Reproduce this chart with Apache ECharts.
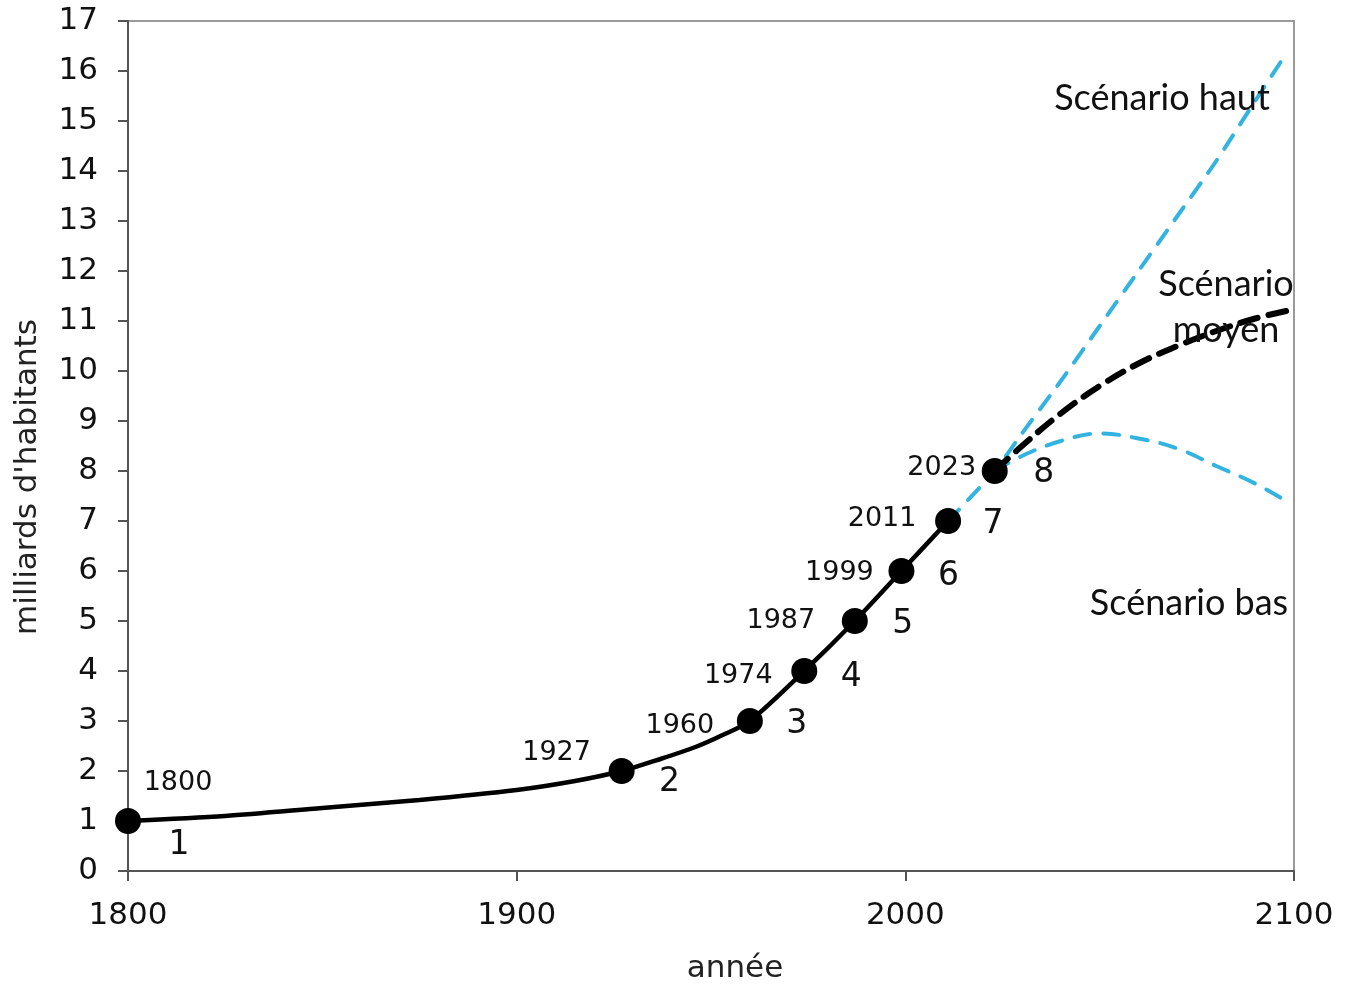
<!DOCTYPE html>
<html>
<head>
<meta charset="utf-8">
<script src="https://cdn.jsdelivr.net/npm/echarts@6/dist/echarts.min.js"></script>
<style>
  html, body { margin: 0; padding: 0; background: #fff; }
  #chart { width: 1352px; height: 988px; }
</style>
</head>
<body>
<div id="chart"></div>
<script>
// historic curve (milliards d'habitants)
var histYears = [1800, 1825, 1850, 1875, 1900, 1915, 1927, 1937, 1946, 1953, 1960, 1974, 1987, 1999, 2011];
var histValues = [1.0, 1.1, 1.26, 1.42, 1.62, 1.8, 2.0, 2.24, 2.48, 2.72, 3.0, 4.0, 5.0, 6.0, 7.0];

// milestones: each new billion
var mileYears = [1800, 1927, 1960, 1974, 1987, 1999, 2011, 2023];
var mileValues = [1, 2, 3, 4, 5, 6, 7, 8];

// projections
var hautYears = [2011, 2023, 2030, 2040, 2050, 2060, 2070, 2080, 2090, 2098];
var hautValues = [7.0, 8.0, 8.75, 9.8, 10.9, 12.0, 13.1, 14.2, 15.4, 16.35];
var moyenYears = [2023, 2030, 2040, 2050, 2060, 2070, 2080, 2090, 2098];
var moyenValues = [8.0, 8.5, 9.15, 9.7, 10.15, 10.5, 10.8, 11.05, 11.2];
var basYears = [2023, 2030, 2040, 2050, 2060, 2070, 2080, 2090, 2099];
var basValues = [8.0, 8.3, 8.6, 8.75, 8.65, 8.45, 8.1, 7.75, 7.35];

// label placement around each milestone marker (px)
var yearLabelShift = [[50, -38], [-65, -18], [-70, 5], [-66, 5], [-74, 0], [-62, 2], [-66, -2], [-53, -3]];
var rankLabelShift = [[51, 24], [48, 11], [47, 3], [47, 6], [48, 3], [47, 5], [45, 3], [49, 2]];

var FONT = 'DejaVu Sans';
var BLUE = '#33b3e0';

function pairs(xs, ys) {
    return xs.map(function (x, i) { return [x, ys[i]]; });
}

var chart = echarts.init(document.getElementById('chart'));

var yearItems = mileYears.map(function (y, i) {
    return {
        value: [y, mileValues[i]],
        label: { offset: yearLabelShift[i] }
    };
});
var rankItems = mileYears.map(function (y, i) {
    return {
        value: [y, mileValues[i]],
        label: { offset: rankLabelShift[i] }
    };
});

var option = {
    backgroundColor: '#fff',
    animation: false,
    grid: {
        left: 128,
        right: 58,
        top: 21,
        bottom: 117,
        outerBoundsMode: 'none',
        containLabel: false,
        show: true,
        borderColor: '#9a9a9a',
        borderWidth: 2
    },
    xAxis: {
        type: 'value',
        min: 1800,
        max: 2100,
        interval: 100,
        name: 'année',
        nameLocation: 'middle',
        nameGap: 82,
        nameTextStyle: { fontFamily: FONT, fontSize: 31, color: '#222', padding: [0, 0, 0, 48] },
        axisLine: { show: true, lineStyle: { color: '#555', width: 2 } },
        axisTick: { show: true, length: 10, lineStyle: { color: '#555', width: 2 } },
        axisLabel: {
            fontFamily: FONT, fontSize: 31, color: '#111', margin: 29,
            formatter: function (v) { return String(v); }
        },
        splitLine: { show: false }
    },
    yAxis: {
        type: 'value',
        min: 0,
        max: 17,
        interval: 1,
        axisLine: { show: true, lineStyle: { color: '#555', width: 2 } },
        axisTick: { show: true, length: 10, lineStyle: { color: '#555', width: 2 } },
        axisLabel: { fontFamily: FONT, fontSize: 31, color: '#111', margin: 30 },
        splitLine: { show: false }
    },
    graphic: [
        {
            type: 'text', x: 28, y: 477, rotation: Math.PI / 2,
            style: { text: "milliards d'habitants", font: '31px "DejaVu Sans"', fill: '#222', align: 'center', verticalAlign: 'middle' }
        },
        {
            type: 'text', x: 1162, y: 98, z: 10,
            style: { text: 'Scénario haut', font: '36px Lato', fill: '#111', align: 'center', verticalAlign: 'middle' }
        },
        {
            type: 'text', x: 1226, y: 307, z: 10,
            style: { text: 'Scénario\nmoyen', font: '36px Lato', lineHeight: 46, fill: '#111', align: 'center', verticalAlign: 'middle' }
        },
        {
            type: 'text', x: 1189, y: 603, z: 10,
            style: { text: 'Scénario bas', font: '36px Lato', fill: '#111', align: 'center', verticalAlign: 'middle' }
        }
    ],
    series: [
        {
            name: 'haut',
            type: 'line',
            smooth: 0.2,
            showSymbol: false,
            z: 2,
            lineStyle: { color: BLUE, width: 4, type: [16, 13], cap: 'round' },
            data: pairs(hautYears, hautValues)
        },
        {
            name: 'bas',
            type: 'line',
            smooth: 0.4,
            showSymbol: false,
            z: 2,
            lineStyle: { color: BLUE, width: 4, type: [16, 13], cap: 'round' },
            data: pairs(basYears, basValues)
        },
        {
            name: 'moyen',
            type: 'line',
            smooth: 0.4,
            showSymbol: false,
            z: 3,
            lineStyle: { color: '#000', width: 6, type: [18, 11], cap: 'round' },
            data: pairs(moyenYears, moyenValues)
        },
        {
            name: 'historique',
            type: 'line',
            smooth: 0.3,
            showSymbol: false,
            z: 4,
            lineStyle: { color: '#000', width: 4.5 },
            data: pairs(histYears, histValues)
        },
        {
            name: 'années',
            type: 'scatter',
            symbol: 'circle',
            symbolSize: 26,
            z: 5,
            itemStyle: { color: '#000', opacity: 1 },
            label: {
                show: true,
                position: 'inside',
                fontFamily: FONT,
                fontSize: 27,
                color: '#111',
                formatter: function (p) { return String(p.value[0]); }
            },
            data: yearItems
        },
        {
            name: 'rang',
            type: 'scatter',
            symbolSize: 0,
            z: 6,
            itemStyle: { opacity: 1 },
            label: {
                show: true,
                position: 'inside',
                fontFamily: FONT,
                fontSize: 33,
                color: '#111',
                formatter: function (p) { return String(p.value[1]); }
            },
            data: rankItems
        }
    ]
};

chart.setOption(option);
</script>
</body>
</html>
